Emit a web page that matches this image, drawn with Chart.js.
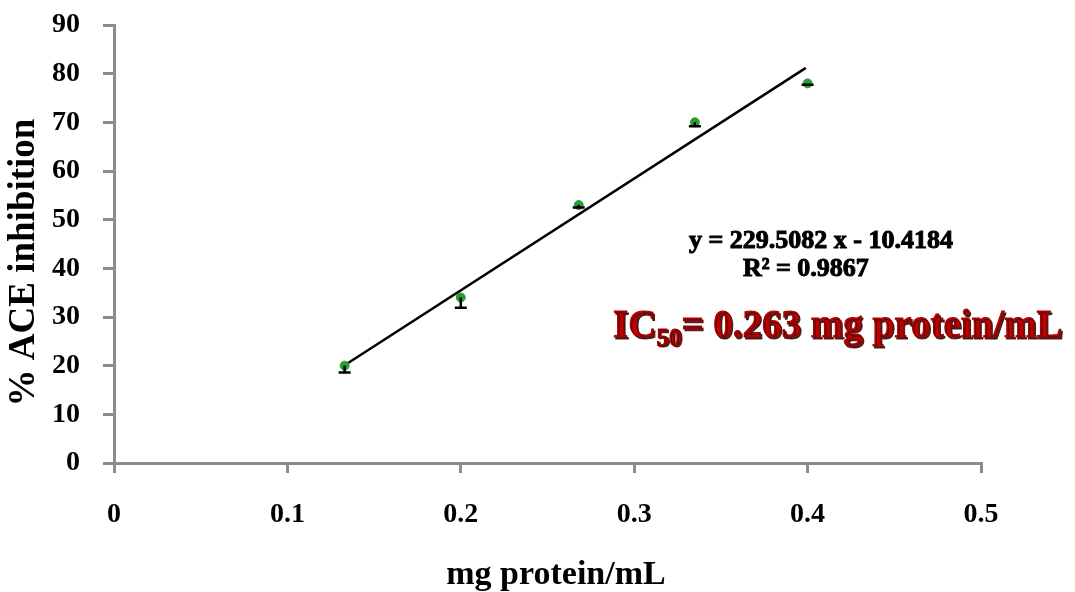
<!DOCTYPE html>
<html>
<head>
<meta charset="utf-8">
<title>ACE inhibition</title>
<script src="https://cdn.jsdelivr.net/npm/chart.js@4.4.0/dist/chart.umd.min.js"></script>
<style>
    html, body { margin: 0; padding: 0; background: #ffffff; }
    #wrap { width: 1075px; height: 592px; }
</style>
</head>
<body>
<div id="wrap"><canvas id="aceChart" width="1075" height="592"></canvas></div>
<script>
// ======================== Data ========================

const concentrations = [0.133, 0.2, 0.268, 0.335, 0.4];   // mg protein/mL
const inhibition = [20, 34, 53, 70, 78];                  // % ACE inhibition
const errorMinus = [1.4, 2.1, 0.5, 0.8, 0.3];             // lower error bars

// linear trend line end points
const trendX = [0.133, 0.399];
const trendY = [20.1, 81.2];

const xTickLabels = ['0', '0.1', '0.2', '0.3', '0.4', '0.5'];
const yTickLabels = ['0', '10', '20', '30', '40', '50', '60', '70', '80', '90'];

const FONT = "'Liberation Serif', 'Times New Roman', serif";
const AXIS_GREY = '#8c8c8c';

// ======================== Plugins ========================

// lower error bars with a cap
const errorBarPlugin = {
    id: 'errorBars',
    afterDatasetsDraw(chart) {
        const { ctx, scales: { x, y } } = chart;
        ctx.save();
        ctx.strokeStyle = '#000000';
        ctx.lineWidth = 2.5;
        concentrations.forEach((cx, i) => {
            const px = x.getPixelForValue(cx);
            const top = y.getPixelForValue(inhibition[i]);
            const bottom = y.getPixelForValue(inhibition[i] - errorMinus[i]);
            ctx.beginPath();
            ctx.moveTo(px, top);
            ctx.lineTo(px, bottom);
            ctx.moveTo(px - 6, bottom);
            ctx.lineTo(px + 6, bottom);
            ctx.stroke();
        });
        ctx.restore();
    }
};

// heavy text helper (fill + thin stroke, like the blurred bold original)
function heavyText(ctx, text, x, y) {
    ctx.fillText(text, x, y);
    ctx.strokeText(text, x, y);
}

// equation, R² and IC50 annotations
const annotationPlugin = {
    id: 'annotations',
    afterDraw(chart) {
        const { ctx, scales: { x, y } } = chart;
        ctx.save();
        ctx.fillStyle = '#000000';
        ctx.strokeStyle = '#000000';
        ctx.lineWidth = 1;
        ctx.textBaseline = 'middle';
        ctx.textAlign = 'center';
        ctx.font = 'bold 26px ' + FONT;
        heavyText(ctx, 'y = 229.5082 x - 10.4184', x.getPixelForValue(0.4077), y.getPixelForValue(45.6));
        heavyText(ctx, 'R² = 0.9867', x.getPixelForValue(0.399), y.getPixelForValue(39.9));

        // IC50 line, red with a dark shadow
        let px = x.getPixelForValue(0.2878);
        const py = y.getPixelForValue(27.9);
        ctx.textAlign = 'left';
        ctx.fillStyle = '#c00000';
        ctx.strokeStyle = '#9a0000';
        ctx.shadowColor = 'rgba(50, 0, 0, 0.85)';
        ctx.shadowOffsetX = 1.5;
        ctx.shadowOffsetY = 1.5;
        ctx.shadowBlur = 0;

        ctx.font = 'bold 39px ' + FONT;
        heavyText(ctx, 'IC', px, py);
        px += ctx.measureText('IC').width;

        ctx.font = 'bold 25px ' + FONT;
        heavyText(ctx, '50', px, py + 12);
        px += ctx.measureText('50').width;

        ctx.font = 'bold 39px ' + FONT;
        heavyText(ctx, '= 0.263 mg protein/mL', px, py);
        ctx.restore();
    }
};

// ======================== Chart ========================

const ctx = document.getElementById('aceChart').getContext('2d');

new Chart(ctx, {
    type: 'scatter',
    data: {
        datasets: [
            {
                type: 'line',
                label: 'Linear trend',
                data: trendX.map((v, i) => ({ x: v, y: trendY[i] })),
                borderColor: '#000000',
                borderWidth: 2.5,
                pointRadius: 0,
                fill: false,
                order: 2
            },
            {
                label: '% ACE inhibition',
                data: concentrations.map((v, i) => ({ x: v, y: inhibition[i] })),
                backgroundColor: '#2f9a35',
                borderColor: '#2f9a35',
                pointRadius: 4.5,
                pointStyle: 'circle',
                order: 1
            }
        ]
    },
    options: {
        responsive: false,
        animation: false,
        devicePixelRatio: 1,
        layout: {
            padding: { left: 0, right: 94, top: 25, bottom: 0 }
        },
        plugins: {
            legend: { display: false },
            tooltip: { enabled: false }
        },
        scales: {
            x: {
                type: 'linear',
                min: 0,
                max: 0.5,
                afterFit: scale => { scale.height = 129; },
                afterBuildTicks: scale => {
                    scale.ticks = xTickLabels.map(t => ({ value: parseFloat(t) }));
                },
                ticks: {
                    callback: (v, i) => xTickLabels[i],
                    color: '#000000',
                    font: { family: FONT, size: 28, weight: 'bold' },
                    padding: 25,
                    maxRotation: 0,
                    autoSkip: false
                },
                grid: {
                    drawOnChartArea: false,
                    color: AXIS_GREY,
                    lineWidth: 3,
                    tickLength: 10
                },
                border: { color: AXIS_GREY, width: 3 },
                title: {
                    display: true,
                    text: '  mg protein/mL',
                    color: '#000000',
                    font: { family: FONT, size: 34, weight: 'bold', lineHeight: 1 },
                    padding: { top: 0, bottom: 0 }
                }
            },
            y: {
                type: 'linear',
                min: 0,
                max: 90,
                afterFit: scale => {
                    scale.width = 114;
                    // the tick padding should not push the plot area down
                    scale.paddingTop = 0;
                    scale.paddingBottom = 0;
                },
                afterBuildTicks: scale => {
                    scale.ticks = yTickLabels.map(t => ({ value: parseFloat(t) }));
                },
                ticks: {
                    callback: (v, i) => yTickLabels[i],
                    color: '#000000',
                    font: { family: FONT, size: 28, weight: 'bold' },
                    padding: 23,
                    autoSkip: false
                },
                grid: {
                    drawOnChartArea: false,
                    color: AXIS_GREY,
                    lineWidth: 3,
                    tickLength: 11
                },
                border: { color: AXIS_GREY, width: 3 },
                title: {
                    display: true,
                    text: '% ACE inhibition    ',
                    color: '#000000',
                    font: { family: FONT, size: 37, weight: 'bold', lineHeight: 1.2 },
                    padding: { top: 2, bottom: 0 }
                }
            }
        }
    },
    plugins: [errorBarPlugin, annotationPlugin]
});
</script>
</body>
</html>
